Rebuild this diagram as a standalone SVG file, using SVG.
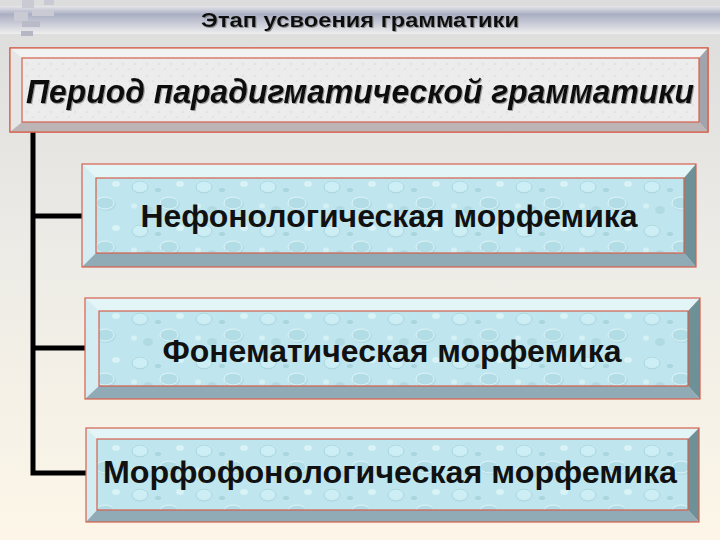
<svg xmlns="http://www.w3.org/2000/svg" width="720" height="540" viewBox="0 0 720 540">
<defs>
<linearGradient id="bg" x1="0" y1="0" x2="0" y2="1">
<stop offset="0" stop-color="#dcdcdc"/>
<stop offset="0.45" stop-color="#ecebe6"/>
<stop offset="1" stop-color="#fdf6e8"/>
</linearGradient>
<linearGradient id="band" x1="0" y1="0" x2="0" y2="1">
<stop offset="0" stop-color="#e6e6ea"/>
<stop offset="0.3" stop-color="#a9aec2"/>
<stop offset="1" stop-color="#eeeeee"/>
</linearGradient>
<pattern id="drops" width="64" height="44" patternUnits="userSpaceOnUse">
<rect width="64" height="44" fill="#bfe6ee"/>
<ellipse cx="12" cy="10" rx="8" ry="6" fill="#cdeef4"/>
<ellipse cx="12" cy="11" rx="8" ry="6" fill="none" stroke="#a8d6e0" stroke-width="1"/>
<ellipse cx="42" cy="28" rx="10" ry="7" fill="#b2dde7"/>
<ellipse cx="41" cy="27" rx="9" ry="6" fill="none" stroke="#dff5f8" stroke-width="1"/>
<ellipse cx="52" cy="8" rx="4" ry="3" fill="#d8f2f6"/>
<ellipse cx="20" cy="34" rx="5" ry="4" fill="#b0dbe5"/>
<ellipse cx="30" cy="14" rx="3" ry="2" fill="#a9d5df"/>
<ellipse cx="6" cy="30" rx="3" ry="2.5" fill="#d6f0f5"/>
</pattern>
<pattern id="speck" width="12" height="12" patternUnits="userSpaceOnUse">
<rect width="12" height="12" fill="#ececec"/>
<circle cx="3" cy="4" r="0.8" fill="#d4d4d4"/>
<circle cx="9" cy="9" r="0.8" fill="#dadada"/>
<circle cx="8" cy="2" r="0.6" fill="#fafafa"/>
</pattern>
<filter id="sh" x="-5%" y="-20%" width="110%" height="140%">
<feDropShadow dx="1" dy="1" stdDeviation="0.6" flood-color="#777" flood-opacity="0.7"/>
</filter>
</defs>
<style>
.out{stroke:#d5604c;stroke-width:1.2;}
.tb{fill:#e4f5f8;}
.lb{fill:#d3edf3;}
.rb{fill:#6e9197;}
.bb{fill:#90aab6;}
.face{fill:url(#drops);stroke:#d5604c;stroke-width:1.2;}
.gtb{fill:#f2f2f2;}
.glb{fill:#e6e6e6;}
.grb{fill:#a3a4ab;}
.gbb{fill:#bdb5b5;}
.t{font-family:"Liberation Sans",Arial,sans-serif;font-weight:bold;fill:#111;text-anchor:middle;}
.conn{fill:none;stroke:#000;stroke-width:5;}
</style>
<rect width="720" height="540" fill="url(#bg)"/>
<rect x="0" y="6" width="720" height="28" fill="url(#band)"/>
<g id="deco" fill="#c9cad3">
<rect x="22" y="0" width="12" height="8"/>
<rect x="44" y="0" width="10" height="5"/>
<rect x="14" y="12" width="14" height="9"/>
<rect x="32" y="10" width="22" height="6"/>
<rect x="22" y="21" width="18" height="6" fill="#b9bbc8"/>
<rect x="21" y="31" width="12" height="5" fill="#b5b7c5"/>
</g>
<text id="title" class="t" x="360" y="27" font-size="20" fill="#1c1c28" textLength="318" lengthAdjust="spacingAndGlyphs" filter="url(#sh)">Этап усвоения грамматики</text>

<g id="connectors">
<path class="conn" d="M33,132 V473 H87"/>
<path class="conn" d="M33,216 H83"/>
<path class="conn" d="M33,348 H86"/>
</g>

<g id="period">
<rect x="10" y="48" width="698" height="84" class="out" fill="#e8e8e8"/>
<polygon class="gtb" points="10,48 708,48 699,58 22,58"/>
<polygon class="glb" points="10,48 22,58 22,122 10,132"/>
<polygon class="grb" points="708,48 708,132 699,122 699,58"/>
<polygon class="gbb" points="10,132 22,122 699,122 708,132"/>
<rect x="10" y="48" width="698" height="84" fill="none" class="out"/>
<rect x="22" y="58" width="677" height="64" fill="url(#speck)" class="out"/>
<text class="t" x="360" y="103" font-size="33" font-style="italic" textLength="668" lengthAdjust="spacingAndGlyphs" filter="url(#sh)">Период парадигматической грамматики</text>
</g>

<g id="box1">
<polygon class="tb" points="82,164 696,164 684,178 96,178"/>
<polygon class="lb" points="82,164 96,178 96,253 82,267"/>
<polygon class="rb" points="696,164 696,267 684,253 684,178"/>
<polygon class="bb" points="82,267 96,253 684,253 696,267"/>
<rect x="82" y="164" width="614" height="103" fill="none" class="out"/>
<rect x="96" y="178" width="588" height="75" class="face"/>
<text class="t" x="389" y="227" font-size="32" textLength="497" lengthAdjust="spacingAndGlyphs">Нефонологическая морфемика</text>
</g>

<g id="box2">
<polygon class="tb" points="85,298 700,298 688,311 99,311"/>
<polygon class="lb" points="85,298 99,311 99,386 85,399"/>
<polygon class="rb" points="700,298 700,399 688,386 688,311"/>
<polygon class="bb" points="85,399 99,386 688,386 700,399"/>
<rect x="85" y="298" width="615" height="101" fill="none" class="out"/>
<rect x="99" y="311" width="589" height="75" class="face"/>
<text class="t" x="392" y="362" font-size="32" textLength="459" lengthAdjust="spacingAndGlyphs">Фонематическая морфемика</text>
</g>

<g id="box3">
<polygon class="tb" points="86,428 699,428 688,439 97,439"/>
<polygon class="lb" points="86,428 97,439 97,510 86,522"/>
<polygon class="rb" points="699,428 699,522 688,510 688,439"/>
<polygon class="bb" points="86,522 97,510 688,510 699,522"/>
<rect x="86" y="428" width="613" height="94" fill="none" class="out"/>
<rect x="97" y="439" width="591" height="71" class="face"/>
<text class="t" x="390" y="483" font-size="32" textLength="574" lengthAdjust="spacingAndGlyphs">Морфофонологическая морфемика</text>
</g>
</svg>
